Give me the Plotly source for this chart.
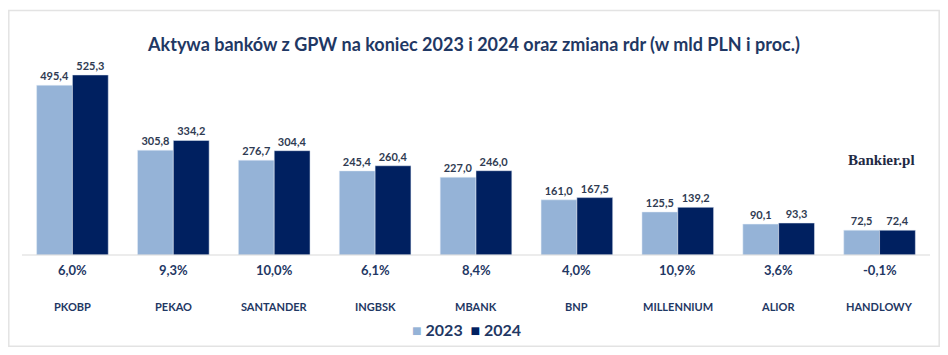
import plotly.graph_objects as go

banks = ["PKOBP", "PEKAO", "SANTANDER", "INGBSK", "MBANK", "BNP", "MILLENNIUM", "ALIOR", "HANDLOWY"]
assets_2023 = [495.4, 305.8, 276.7, 245.4, 227.0, 161.0, 125.5, 90.1, 72.5]
assets_2024 = [525.3, 334.2, 304.4, 260.4, 246.0, 167.5, 139.2, 93.3, 72.4]
change_pct = [6.0, 9.3, 10.0, 6.1, 8.4, 4.0, 10.9, 3.6, -0.1]
series_names = ["2023", "2024"]

C23 = "#95b3d7"
C24 = "#002060"
TXT = "#1f3864"
LBL = "#2f3b52"
FONT = "Lato"

# page body has 8px margin: figure spans absolute x 8..940, y 8..347
W, H = 932, 339
L, R, T, B = 14, 10, 52, 92
PW = W - L - R      # 908
PH = H - T - B      # 195


def px_x(ax):  # absolute px -> paper x
    return (ax - 8 - L) / PW


def px_y(ay):  # absolute px -> paper y
    return (8 + T + PH - ay) / PH


fig = go.Figure()
for name, vals, col in [(series_names[0], assets_2023, C23), (series_names[1], assets_2024, C24)]:
    fig.add_bar(x=banks, y=vals, name=name, marker_color=col,
                texttemplate="%{y:.1f}", textposition="outside", cliponaxis=False,
                textfont=dict(size=11, color=LBL, family=FONT, weight="bold"))

for b, c in zip(banks, change_pct):
    fig.add_annotation(x=b, xref="x", y=px_y(270), yref="paper", yanchor="middle", xanchor="center",
                       text=f"{c:.1f}%".replace(".", ","), showarrow=False,
                       font=dict(size=13, color=TXT, family=FONT, weight="bold"))
    fig.add_annotation(x=b, xref="x", y=px_y(306), yref="paper", yanchor="middle", xanchor="center",
                       text=b, showarrow=False,
                       font=dict(size=11, color=TXT, family=FONT, weight="bold"))

# legend (manual, compact)
fig.add_annotation(x=px_x(466), xref="paper", y=px_y(329), yref="paper", yanchor="middle",
                   xanchor="center", showarrow=False,
                   text=(f"<span style='color:{C23}'>■</span> {series_names[0]}  "
                         f"<span style='color:{C24}'>■</span> {series_names[1]}"),
                   font=dict(size=16, color=TXT, family=FONT, weight="bold"))

fig.add_annotation(x=px_x(881), xref="paper", y=px_y(160), yref="paper", text="Bankier.pl",
                   xanchor="center", yanchor="middle",
                   showarrow=False, font=dict(size=15, color="#1f2a44", family="Liberation Serif",
                                              weight="bold"))

# baseline
fig.add_shape(type="line", xref="paper", yref="paper", x0=0, x1=1, y0=0, y1=0,
              line=dict(color="#d9d9d9", width=1))
# frame
fig.add_shape(type="rect", xref="paper", yref="paper",
              x0=px_x(8.8), x1=px_x(939.2), y0=px_y(346.2), y1=px_y(10.5),
              line=dict(color="#e3e3e3", width=1.5), layer="below")

fig.update_layout(
    width=W, height=H,
    margin=dict(l=L, r=R, t=T, b=B),
    paper_bgcolor="white", plot_bgcolor="white",
    separators=", ",
    barmode="group", bargap=0.29, bargroupgap=0,
    title=dict(text="Aktywa banków z GPW na koniec 2023 i 2024 oraz zmiana rdr (w mld PLN i proc.)",
               x=px_x(474), xanchor="center", xref="paper", y=1 - (45 - 8) / H, yanchor="middle",
               font=dict(size=18, color=TXT, family=FONT, weight="bold")),
    xaxis=dict(showticklabels=False, showgrid=False, zeroline=False, showline=False, ticks=""),
    yaxis=dict(range=[0, 569], visible=False),
    showlegend=False,
)

fig.write_html("out.html")
